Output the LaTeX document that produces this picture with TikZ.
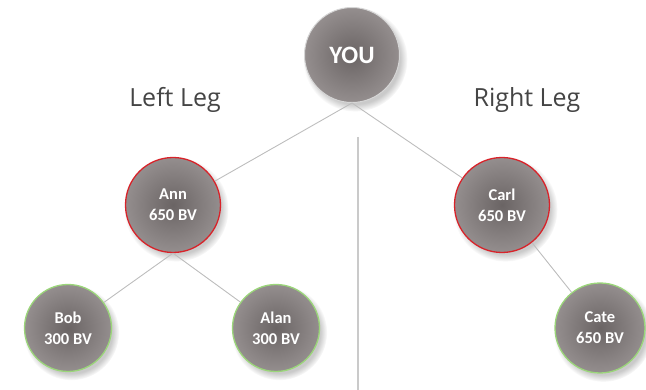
\documentclass[tikz,border=0pt]{standalone}
\usepackage{fontspec}
\setmainfont{Open Sans}
\newfontfamily\nodefont{Carlito}
\usetikzlibrary{shadows}
\definecolor{ballin}{HTML}{6A6464}
\definecolor{ballout}{HTML}{948E8E}
\definecolor{legtext}{HTML}{454545}
\definecolor{linkgray}{HTML}{BDBDBD}
\definecolor{rimred}{HTML}{D8232A}
\definecolor{rimgreen}{HTML}{9BD67A}
\definecolor{rimgray}{HTML}{D6D6D6}
\tikzset{
  ball/.style={circle, minimum size=#1, inner sep=0pt, inner color=ballin, outer color=ballout,
    text=white, font=\nodefont\bfseries\fontsize{16.5}{21}\selectfont, align=center,
    circular drop shadow={shadow xshift=3pt, shadow yshift=-4pt, opacity=0.35, fill=black!60}},
  redball/.style={ball=#1, draw=rimred, line width=1.3pt},
  greenball/.style={ball=#1, draw=rimgreen, line width=1.3pt},
  grayball/.style={ball=#1, draw=rimgray, line width=1pt},
  link/.style={draw=linkgray, line width=0.9pt},
  leg/.style={text=legtext, font=\fontsize{25}{30}\selectfont}
}
\begin{document}
\begin{tikzpicture}[x=1pt,y=-1pt]
\useasboundingbox (0,0) rectangle (646,390);
\draw[draw=linkgray!80, line width=1.1pt] (358,137) coordinate (vtop) -- (358,390) coordinate (vbot);
\node[grayball=95pt, font=\nodefont\bfseries\fontsize{25}{28}\selectfont] (you) at (352,55) {YOU};
\node[redball=95pt] (ann) at (173,205) {Ann\\650 BV};
\node[redball=95pt] (carl) at (502,205) {Carl\\650 BV};
\node[greenball=87pt] (bob) at (68,328) {Bob\\300 BV};
\node[greenball=87pt] (alan) at (276,328) {Alan\\300 BV};
\node[greenball=90pt] (cate) at (600,328) {Cate\\650 BV};
\node[leg] (left) at (175,100) {Left Leg};
\node[leg] (right) at (527,100) {Right Leg};
\draw[link] (you.south) -- (ann);
\draw[link] (you.south) -- (carl);
\draw[link] (ann.south) -- (bob);
\draw[link] (ann.south) -- (alan);
\draw[link] (carl) -- (cate);
\end{tikzpicture}
\end{document}
